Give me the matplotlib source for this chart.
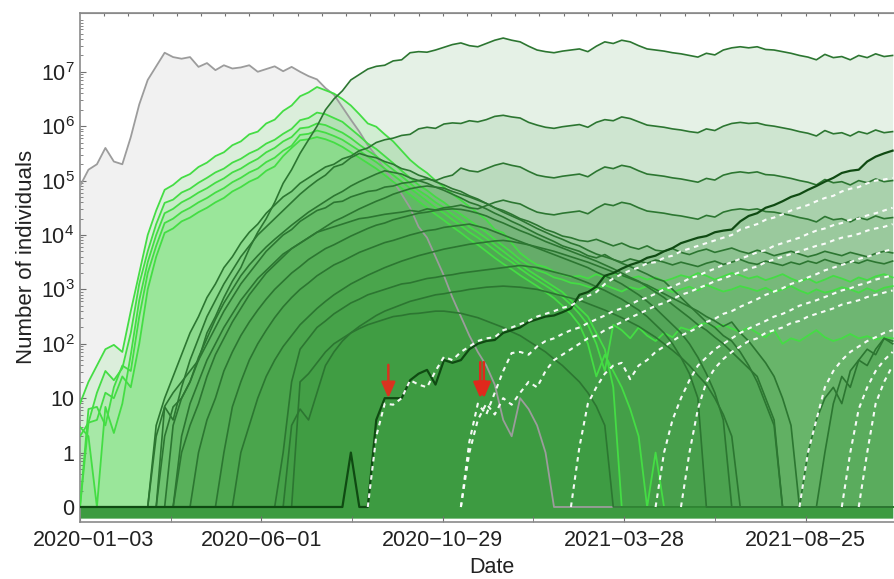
import numpy as np
import pandas as pd
import matplotlib
matplotlib.use("Agg")
import matplotlib.pyplot as plt
import matplotlib.dates as mdates
from matplotlib.ticker import FixedLocator, FixedFormatter, NullFormatter
from matplotlib.transforms import ScaledTranslation

plt.rcParams["font.family"] = ["Liberation Sans", "DejaVu Sans"]
plt.rcParams["mathtext.fontset"] = "custom"
plt.rcParams["mathtext.rm"] = "Liberation Sans"
plt.rcParams["mathtext.it"] = "Liberation Sans:italic"

# ---------------------------------------------------------------------------
# Weekly counts, stored as log10(count); None marks a week with zero count.
# ---------------------------------------------------------------------------
N_WEEKS = 97
weeks = pd.date_range("2020-01-03", periods=N_WEEKS, freq="7D")

gray_log = [4.9, 5.2, 5.3, 5.6, 5.35, 5.3, 5.8, 6.4, 6.85, 7.1, 7.35, 7.27, 7.24, 7.27, 7.09, 7.16,
            7.03, 7.12, 7.06, 7.08, 7.12, 7.0, 7.05, 7.1, 7.01, 7.09, 7.0, 6.92, 6.86, 6.7, 6.58,
            6.35, 6.12, 5.9, 5.65, 5.45, 5.2, 5.0, 4.75, 4.5, 4.15, 3.95, 3.6, 3.25, 2.85, 2.5,
            2.15, 1.85, 1.6, 1.25, 0.6, 0.3, 1.0, 0.8, 0.5, 0.0]

bright1_log = [0.9, 1.3, 1.6, 1.9, 1.98, 1.85, 2.6, 3.3, 4.0, 4.45, 4.83, 4.92, 5.05, 5.12, 5.25,
               5.33, 5.45, 5.52, 5.65, 5.72, 5.85, 5.9, 6.05, 6.12, 6.28, 6.38, 6.55, 6.62, 6.72,
               6.66, 6.6, 6.5, 6.38, 6.22, 6.05, 5.99, 5.85, 5.72, 5.55, 5.38, 5.25, 5.14, 5.0,
               4.88, 4.75, 4.64, 4.52, 4.4, 4.28, 4.1, 4.04, 3.85, 3.67, 3.55, 3.45, 3.41, 3.33,
               3.27, 3.23, 3.25, 3.2, 3.28, 3.22, 3.3, 3.26, 3.2, 3.24, 3.18, 3.22, 3.15, 3.2,
               3.26, 3.22, 3.3, 3.25, 3.18, 3.24, 3.3, 3.26, 3.2, 3.24, 3.17, 3.22, 3.28, 3.2,
               3.14, 3.2, 3.12, 3.18, 3.25, 3.2, 3.14, 3.22, 3.17, 3.24, 3.28, 3.22]

bright2_log = [0.3, 0.55, 1.1, 1.5, 1.33, 1.55, 2.2, 3.1, 3.7, 4.2, 4.59, 4.65, 4.78, 4.85, 4.96,
               5.05, 5.15, 5.22, 5.33, 5.4, 5.5, 5.57, 5.68, 5.75, 5.86, 5.95, 6.11, 6.15, 6.25,
               6.22, 6.15, 6.08, 5.95, 5.82, 5.68, 5.58, 5.45, 5.32, 5.18, 5.05, 4.92, 4.82, 4.7,
               4.6, 4.48, 4.38, 4.27, 4.16, 4.05, 3.92, 3.8, 3.68, 3.55, 3.45, 3.35, 3.3, 3.22,
               3.18, 3.12, 3.1, 3.05, 3.0, 3.08, 3.02, 2.96, 3.04, 3.0, 3.06, 2.98, 3.02, 2.95,
               3.0, 3.05, 2.98, 3.08, 3.02, 2.96, 3.0, 3.06, 3.02, 2.97, 3.03, 2.95, 3.0, 3.06,
               2.98, 2.92, 3.0, 2.94, 2.98, 3.04, 3.0, 2.94, 3.02, 2.96, 3.03, 3.06]

bright3_log = [0.47, 0.3, None, 0.84, 0.36, 0.9, 1.8, 2.8, 3.5, 4.0, 4.4, 4.48, 4.6, 4.68, 4.78,
               4.86, 4.96, 5.04, 5.15, 5.22, 5.32, 5.4, 5.52, 5.6, 5.72, 5.8, 5.96, 5.98, 6.05,
               6.02, 5.95, 5.88, 5.78, 5.66, 5.55, 5.45, 5.32, 5.2, 5.08, 4.95, 4.82, 4.72, 4.6,
               4.5, 4.38, 4.27, 4.15, 4.05, 3.94, 3.82, 3.7, 3.58, 3.46, 3.35, 3.25, 3.15, 3.05,
               2.95, 2.8, 2.65, 2.5, 2.2, 1.9, 1.2]

bright4_log = [None, 0.8, 0.84, 0.5, 1.2, 1.6, 1.5, 2.5, 3.3, 3.8, 4.22, 4.3, 4.42, 4.5, 4.6,
               4.68, 4.78, 4.86, 4.97, 5.05, 5.15, 5.22, 5.34, 5.42, 5.55, 5.64, 5.84, 5.86,
               5.92, 5.88, 5.82, 5.75, 5.65, 5.55, 5.44, 5.34, 5.22, 5.1, 4.98, 4.86, 4.74, 4.62,
               4.5, 4.4, 4.28, 4.17, 4.05, 3.95, 3.84, 3.72, 3.6, 3.5, 3.38, 3.27, 3.17, 3.07,
               2.97, 2.86, 2.72, 2.55, 2.35, 2.0, 1.5, 2.35, 2.25, 2.1, 2.3, 2.15, 2.05, 2.2,
               2.12, 2.3, 2.25, 2.35, 2.38, 2.3, 2.35, 2.28, 2.22, 2.3, 2.2, 2.12, 2.25, 2.0, 2.1,
               2.05, 2.15, 2.25, 2.12, 2.05, 2.1, 2.18, 2.1, 2.14, 2.08, 2.12, 2.1]

bright5_log = [None, 0.55, 0.6, 1.1, 1.0, 1.4, 1.2, 2.0, 3.0, 3.6, 4.04, 4.12, 4.25, 4.32, 4.42,
               4.5, 4.6, 4.68, 4.8, 4.88, 4.98, 5.05, 5.18, 5.26, 5.45, 5.6, 5.74, 5.76, 5.8,
               5.76, 5.7, 5.62, 5.52, 5.42, 5.32, 5.22, 5.1, 4.98, 4.86, 4.74, 4.62, 4.5, 4.38,
               4.27, 4.15, 4.04, 3.92, 3.82, 3.7, 3.58, 3.47, 3.37, 3.26, 3.16, 3.06, 2.95, 2.84,
               2.7, 2.55, 2.35, 2.0, 1.4, 1.8, 1.5, 1.2, 0.8, 0.3, None, 0.0]

dark1_log = [None] * 10 + [
    0.85, 1.1, 1.3, 1.5, 1.7, 2.2, 2.5, 2.85, 3.15, 3.4, 3.75, 4.05, 4.3, 4.6, 4.95, 5.2, 5.5,
    5.75, 6.0, 6.3, 6.5, 6.65, 6.85, 6.95, 7.05, 7.1, 7.12, 7.2, 7.22, 7.35, 7.37, 7.36, 7.4,
    7.45, 7.5, 7.53, 7.48, 7.46, 7.52, 7.58, 7.62, 7.58, 7.55, 7.47, 7.4, 7.37, 7.35, 7.38, 7.4,
    7.42, 7.37, 7.47, 7.55, 7.52, 7.58, 7.55, 7.48, 7.42, 7.4, 7.38, 7.35, 7.33, 7.3, 7.27, 7.34,
    7.31, 7.4, 7.44, 7.46, 7.44, 7.46, 7.41, 7.4, 7.37, 7.34, 7.3, 7.27, 7.22, 7.32, 7.26, 7.28,
    7.22, 7.3, 7.26, 7.33, 7.28, 7.3]

dark2_log = [None] * 9 + [
    0.5, 1.0, 1.4, 1.8, 2.2, 2.5, 2.85, 3.1, 3.4, 3.6, 3.85, 4.05, 4.2, 4.4, 4.55, 4.7, 4.8,
    4.95, 5.05, 5.15, 5.25, 5.3, 5.4, 5.45, 5.55, 5.6, 5.7, 5.75, 5.78, 5.83, 5.85, 5.95, 5.98,
    5.96, 6.04, 6.06, 6.05, 6.1, 6.08, 6.12, 6.18, 6.2, 6.17, 6.15, 6.07, 6.02, 5.98, 5.96, 5.99,
    6.01, 6.03, 5.98, 6.07, 6.12, 6.1, 6.17, 6.14, 6.08, 6.02, 6.0, 5.98, 5.95, 5.93, 5.9, 5.88,
    5.95, 5.92, 6.0, 6.05, 6.07, 6.05, 6.06, 6.02, 6.0, 5.97, 5.94, 5.9, 5.87, 5.82, 5.92, 5.86,
    5.88, 5.82, 5.9, 5.86, 5.93, 5.88, 5.9]

dark3_log = [None] * 11 + [
    0.5, 1.0, 1.3, 1.7, 2.0, 2.3, 2.6, 2.85, 3.1, 3.3, 3.5, 3.7, 3.85, 4.0, 4.1, 4.25, 4.35,
    4.45, 4.5, 4.6, 4.62, 4.7, 4.75, 4.8, 4.82, 4.88, 4.9, 4.95, 4.97, 5.0, 5.03, 5.0, 5.06, 5.1,
    5.23, 5.18, 5.16, 5.22, 5.28, 5.32, 5.28, 5.25, 5.17, 5.1, 5.07, 5.05, 5.08, 5.1, 5.12, 5.07,
    5.17, 5.25, 5.22, 5.28, 5.25, 5.18, 5.12, 5.1, 5.08, 5.05, 5.03, 5.0, 4.97, 5.04, 5.01, 5.1,
    5.14, 5.16, 5.14, 5.16, 5.11, 5.1, 5.07, 5.04, 5.0, 4.97, 4.92, 5.02, 4.96, 4.98, 4.92, 5.0,
    4.96, 5.03, 4.98, 5.0]

dark4_log = [None] * 12 + [
    0.3, 0.9, 1.3, 1.7, 2.0, 2.3, 2.55, 2.8, 3.0, 3.2, 3.35, 3.5, 3.65, 3.75, 3.85, 3.95, 4.05,
    4.1, 4.15, 4.2, 4.25, 4.3, 4.32, 4.35, 4.38, 4.4, 4.42, 4.45, 4.43, 4.48, 4.46, 4.5, 4.52,
    4.55, 4.5, 4.48, 4.54, 4.6, 4.64, 4.6, 4.57, 4.49, 4.42, 4.39, 4.37, 4.4, 4.42, 4.44, 4.39,
    4.49, 4.57, 4.54, 4.6, 4.57, 4.5, 4.44, 4.42, 4.4, 4.37, 4.35, 4.32, 4.29, 4.36, 4.33, 4.42,
    4.46, 4.48, 4.46, 4.48, 4.43, 4.42, 4.39, 4.36, 4.32, 4.29, 4.24, 4.34, 4.28, 4.3, 4.24, 4.32,
    4.28, 4.35, 4.3, 4.32]

hump1_log = [None] * 9 + [
    0.3, 0.84, 0.6, 1.2, 1.7, 2.1, 2.5, 2.8, 3.1, 3.35, 3.6, 3.8, 4.0, 4.15, 4.3, 4.45, 4.6,
    4.75, 4.88, 5.0, 5.1, 5.25, 5.3, 5.42, 5.5, 5.45, 5.42, 5.35, 5.3, 5.22, 5.18, 5.1, 5.05,
    4.98, 4.92, 4.85, 4.8, 4.72, 4.66, 4.58, 4.5, 4.45, 4.38, 4.3, 4.25, 4.18, 4.1, 4.05, 3.98,
    3.95, 3.9, 3.88, 3.92, 3.86, 3.8, 3.85, 3.78, 3.74, 3.8, 3.72, 3.7, 3.75, 3.68, 3.64, 3.7,
    3.74, 3.68, 3.72, 3.76, 3.7, 3.66, 3.72, 3.68, 3.62, 3.66, 3.7, 3.65, 3.6, 3.64, 3.7, 3.66,
    3.62, 3.68, 3.64, 3.6, 3.66, 3.7, 3.67]

hump2_log = [None] * 10 + [
    0.3, 0.84, 1.0, 1.3, 1.75, 2.1, 2.45, 2.75, 3.0, 3.25, 3.45, 3.62, 3.78, 3.92, 4.05, 4.18,
    4.3, 4.42, 4.52, 4.62, 4.72, 4.8, 4.9, 4.98, 5.05, 5.12, 5.18, 5.15, 5.12, 5.05, 5.0, 4.95,
    4.88, 4.82, 4.75, 4.68, 4.6, 4.55, 4.48, 4.4, 4.33, 4.25, 4.18, 4.1, 4.02, 3.95, 3.88, 3.8,
    3.75, 3.7, 3.62, 3.58, 3.64, 3.55, 3.5, 3.56, 3.52, 3.48, 3.54, 3.5, 3.45, 3.5, 3.46, 3.42,
    3.48, 3.52, 3.46, 3.5, 3.55, 3.49, 3.46, 3.52, 3.48, 3.44, 3.5, 3.46, 3.52, 3.48, 3.55, 3.5,
    3.46, 3.52, 3.48, 3.54, 3.5, 3.47, 3.52]

hump3_log = [None] * 12 + [
    0.0, 0.5, 0.9, 1.4, 1.8, 2.1, 2.4, 2.65, 2.9, 3.1, 3.3, 3.45, 3.6, 3.75, 3.85, 3.95, 4.05,
    4.15, 4.25, 4.32, 4.4, 4.48, 4.55, 4.62, 4.68, 4.75, 4.8, 4.85, 4.88, 4.9, 4.88, 4.86, 4.8,
    4.75, 4.7, 4.64, 4.58, 4.5, 4.42, 4.35, 4.28, 4.2, 4.12, 4.05, 3.98, 3.92, 3.85, 3.8, 3.72,
    3.65, 3.6, 3.55, 3.48, 3.42, 3.35, 3.28, 3.2, 3.15, 3.0, 2.85, 2.7, 2.55, 2.4, 2.3, 2.15,
    2.05, 1.85, 1.6, 1.3, 0.9, 0.5]

hump4_log = [None] * 14 + [
    0.0, 0.6, 1.0, 1.5, 1.85, 2.15, 2.4, 2.62, 2.82, 3.0, 3.15, 3.3, 3.42, 3.55, 3.65, 3.75,
    3.82, 3.9, 3.98, 4.05, 4.12, 4.18, 4.22, 4.28, 4.32, 4.36, 4.4, 4.42, 4.45, 4.47, 4.48, 4.47,
    4.44, 4.4, 4.35, 4.28, 4.22, 4.15, 4.08, 4.02, 3.95, 3.88, 3.82, 3.76, 3.7, 3.64, 3.58, 3.52,
    3.45, 3.38, 3.3, 3.22, 3.15, 3.05, 2.95, 2.85, 2.72, 2.6, 2.48, 2.35, 2.25, 2.12, 2.0, 1.85,
    1.7, 1.55, 1.4, 1.0, 0.6, None, None, None, 0.0, 0.6, 1.0, 1.2, 0.9, 1.5, 1.7, 1.6, 1.9,
    2.1, 2.0]

hump5_log = [None] * 17 + [
    0.0, 0.84, 1.3, 1.7, 2.0, 2.25, 2.48, 2.68, 2.85, 3.0, 3.12, 3.25, 3.35, 3.45, 3.52, 3.6,
    3.68, 3.74, 3.8, 3.86, 3.9, 3.95, 4.0, 4.04, 4.08, 4.1, 4.14, 4.16, 4.18, 4.2, 4.16, 4.12,
    4.06, 4.0, 3.94, 3.88, 3.82, 3.76, 3.7, 3.64, 3.58, 3.52, 3.46, 3.4, 3.32, 3.25, 3.18, 3.1,
    3.0, 2.9, 2.78, 2.65, 2.5, 2.35, 2.2, 2.0, 1.75, 1.45, 1.1, 0.6]

hump6_log = [None] * 19 + [
    0.0, 0.5, 1.0, 1.4, 1.7, 1.95, 2.15, 2.35, 2.5, 2.65, 2.78, 2.9, 3.0, 3.1, 3.18, 3.26, 3.33,
    3.4, 3.46, 3.52, 3.57, 3.62, 3.66, 3.7, 3.74, 3.77, 3.8, 3.83, 3.85, 3.87, 3.89, 3.9, 3.88,
    3.85, 3.82, 3.78, 3.74, 3.7, 3.65, 3.6, 3.55, 3.5, 3.44, 3.38, 3.32, 3.26, 3.2, 3.14, 3.08,
    3.0, 2.92, 2.84, 2.76, 2.68, 2.6, 2.5, 2.42, 2.32, 2.4, 2.2, 2.05, 1.85, 1.65, 1.4, 1.0, 0.5]

hump7_log = [None] * 24 + [
    0.0, 1.3, 1.9, 2.1, 2.3, 2.42, 2.55, 2.65, 2.75, 2.82, 2.9, 2.95, 3.0, 3.05, 3.1, 3.12,
    3.16, 3.2, 3.22, 3.25, 3.27, 3.3, 3.32, 3.34, 3.36, 3.38, 3.4, 3.42, 3.44, 3.42, 3.4, 3.36,
    3.32, 3.28, 3.24, 3.18, 3.12, 3.05, 2.98, 2.9, 2.82, 2.72, 2.62, 2.5, 2.35, 2.2, 2.0, 1.75,
    1.45, 1.0]

hump8_log = [None] * 25 + [
    0.5, 0.8, 0.6, 1.1, 1.6, 1.85, 2.05, 2.2, 2.32, 2.42, 2.52, 2.6, 2.66, 2.72, 2.78, 2.82,
    2.86, 2.9, 2.92, 2.95, 2.97, 3.0, 3.02, 3.04, 3.05, 3.06, 3.05, 3.04, 3.02, 3.0, 2.96, 2.92,
    2.88, 2.84, 2.8, 2.74, 2.68, 2.62, 2.55, 2.48, 2.4, 2.32, 2.22, 2.12, 2.0, 1.88, 1.75, 1.6,
    1.42, 1.25, 1.0, 0.7, 0.3, None, None, None, None, None, None, None, None, None, None, 0.0,
    0.9, 1.4, 1.2, 1.7, 1.9, 1.8, 2.1, 2.05]

hump9_log = [None] * 26 + [
    1.3, 1.45, 1.65, 1.85, 2.0, 2.1, 2.2, 2.28, 2.35, 2.4, 2.45, 2.5, 2.52, 2.55, 2.56, 2.58,
    2.6, 2.6, 2.58, 2.56, 2.52, 2.48, 2.42, 2.36, 2.3, 2.22, 2.15, 2.05, 1.95, 1.85, 1.72, 1.6,
    1.45, 1.3, 1.1, 0.85, 0.5]

tracked_log = [None] * 32 + [
    0.0, None, None, 0.6, 1.0, 1.0, 1.0, 1.33, 1.45, 1.52, 1.25, 1.7, 1.65, 1.7, 1.9, 2.0, 2.05,
    2.07, 2.2, 2.25, 2.3, 2.4, 2.45, 2.5, 2.52, 2.58, 2.65, 2.9, 2.95, 3.05, 3.25, 3.3, 3.38,
    3.45, 3.5, 3.58, 3.62, 3.7, 3.76, 3.85, 3.9, 3.95, 3.98, 4.05, 4.08, 4.1, 4.25, 4.35, 4.4,
    4.5, 4.55, 4.62, 4.7, 4.75, 4.83, 4.9, 4.98, 5.05, 5.14, 5.18, 5.2, 5.35, 5.44, 5.5, 5.55]

dashed1_log = [None] * 35 + [
    0.3, 0.9, 0.88, 1.0, 1.33, 1.25, 1.2, 1.5, 1.76, 1.7, 1.85, 1.95, 2.05, 2.1, 2.12, 2.25,
    2.3, 2.36, 2.42, 2.5, 2.55, 2.6, 2.66, 2.7, 2.8, 2.88, 2.95, 3.1, 3.2, 3.28, 3.35, 3.4, 3.48,
    3.5, 3.58, 3.62, 3.7, 3.75, 3.8, 3.85, 3.9, 3.95, 4.0, 4.1, 4.15, 4.2, 4.28, 4.32, 4.38,
    4.45, 4.5, 4.55, 4.62, 4.68, 4.72, 4.8, 4.85, 4.88, 4.95, 5.0, 5.02, 5.05]

dashed2_log = [None] * 46 + [
    0.2, 0.9, 0.7, 1.1, 1.5, 1.83, 1.85, 1.8, 1.95, 2.05, 2.1, 2.18, 2.25, 2.3, 2.38, 2.45,
    2.52, 2.6, 2.65, 2.72, 2.8, 2.85, 2.92, 3.0, 3.05, 3.12, 3.2, 3.25, 3.32, 3.38, 3.45, 3.5,
    3.56, 3.62, 3.68, 3.72, 3.8, 3.85, 3.9, 3.95, 4.02, 4.08, 4.12, 4.18, 4.22, 4.28, 4.3, 4.36,
    4.4, 4.45, 4.5]

dashed3_log = [None] * 46 + [
    0.0, 0.6, 0.9, 0.7, 1.0, 0.88, 1.1, 1.3, 1.2, 1.5, 1.7, 1.8, 1.9, 2.0, 2.1, 2.15, 2.25,
    2.32, 2.4, 2.48, 2.55, 2.62, 2.7, 2.75, 2.82, 2.9, 2.95, 3.02, 3.08, 3.15, 3.2, 3.26, 3.32,
    3.38, 3.42, 3.5, 3.55, 3.6, 3.65, 3.7, 3.75, 3.8, 3.84, 3.9, 3.95, 3.98, 4.02, 4.08, 4.12,
    4.15, 4.2]

dashed4_log = [None] * 59 + [
    0.1, 0.9, 1.2, 1.45, 1.6, 1.65, 1.35, 1.6, 1.7, 1.85, 1.95, 2.05, 2.15, 2.22, 2.3, 2.4,
    2.46, 2.55, 2.6, 2.68, 2.75, 2.82, 2.9, 2.96, 3.02, 3.1, 3.15, 3.22, 3.28, 3.35, 3.4, 3.45,
    3.5, 3.56, 3.6, 3.65, 3.7, 3.74]

dashed5_log = [None] * 69 + [
    0.0, 0.6, 1.0, 1.33, 1.6, 1.75, 1.9, 2.0, 2.1, 2.2, 2.28, 2.35, 2.42, 2.5, 2.55, 2.62, 2.7,
    2.75, 2.8, 2.86, 2.92, 2.98, 3.02, 3.08, 3.12, 3.18, 3.22, 3.26]

dashed6_log = [None] * 72 + [
    0.0, 0.8, 1.3, 1.55, 1.72, 1.85, 1.95, 2.05, 2.1, 2.2, 2.25, 2.3, 2.38, 2.42, 2.5, 2.55,
    2.6, 2.65, 2.72, 2.76, 2.8, 2.86, 2.9, 2.94, 2.98]

dashed7_log = [None] * 86 + [0.0, 0.6, 1.2, 1.5, 1.7, 1.85, 1.95, 2.05, 2.12, 2.2, 2.25]
dashed8_log = [None] * 91 + [0.0, 0.8, 1.2, 1.5, 1.7, 1.85]
dashed9_log = [None] * 93 + [0.0, 0.9, 1.3, 1.6]

# Dates flagged with arrows and the count they point at
arrow_single_date = "2020-09-14"
arrow_double_dates = ["2020-11-29", "2020-12-02"]
arrow_count = 10

# Axis ticks
y_tick_values = [0, 1, 10, 1e2, 1e3, 1e4, 1e5, 1e6, 1e7]
y_tick_labels = ["0", "1", "10", r"$10^{2}$", r"$10^{3}$", r"$10^{4}$",
                 r"$10^{5}$", r"$10^{6}$", r"$10^{7}$"]
x_label_dates = ["2020-01-03", "2020-06-01", "2020-10-29", "2021-03-28", "2021-08-25"]
x_mid_dates = ["2020-03-18", "2020-08-15", "2021-01-12", "2021-06-11"]


def to_counts(log_vals):
    out = np.zeros(N_WEEKS)
    for i, v in enumerate(log_vals[:N_WEEKS]):
        if v is not None:
            out[i] = 10.0 ** v
    return out


# Log axis with zero drawn one decade below 1
def _fwd(v):
    v = np.asarray(v, dtype=float)
    out = np.full(v.shape, -1.0)
    pos = v > 0
    out[pos] = np.log10(v[pos])
    return out


def _inv(t):
    return np.power(10.0, np.asarray(t, dtype=float))


fig = plt.figure(figsize=(8.95, 5.79), dpi=100)
ax = fig.add_axes([80 / 895, 57 / 579, 815 / 895, 509.3 / 579])
ax.set_yscale("function", functions=(_fwd, _inv))

base = 10 ** -1.2

groups = [
    ([gray_log], "#9c9c9c", "#a9a9a9", 0.16, 1.3),
    ([bright1_log, bright2_log, bright3_log, bright4_log, bright5_log],
     "#44dd44", "#48e048", 0.13, 1.3),
    ([dark1_log, dark2_log, dark3_log, dark4_log, hump1_log, hump2_log, hump3_log,
      hump4_log, hump5_log, hump6_log, hump7_log, hump8_log, hump9_log],
     "#2c7631", "#2f9034", 0.12, 1.2),
    ([tracked_log], "#0f4a12", "#2f9034", 0.12, 1.6),
]

for series, lc, fc, alpha, lw in groups:
    for s in series:
        ax.fill_between(weeks, to_counts(s), base, color=fc, alpha=alpha, lw=0, zorder=1)

for series, lc, fc, alpha, lw in groups:
    for s in series:
        ax.plot(weeks, to_counts(s), color=lc, lw=lw, zorder=3)

# White dashed series, drawn from the last zero week before they appear
for s in [dashed1_log, dashed2_log, dashed3_log, dashed4_log, dashed5_log,
          dashed6_log, dashed7_log, dashed8_log, dashed9_log]:
    first = next(i for i, v in enumerate(s) if v is not None)
    lo = max(first - 1, 0)
    ax.plot(weeks[lo:], to_counts(s)[lo:], color="white", lw=1.5, dashes=(2.2, 2.2),
            zorder=4, alpha=0.95)

# Red arrows
ax.annotate("", xy=(pd.Timestamp(arrow_single_date), arrow_count), xytext=(0, 24),
            textcoords="offset points",
            arrowprops=dict(arrowstyle="-|>,head_length=0.8,head_width=0.35",
                            color="#d9331f", lw=1.8, shrinkA=0, shrinkB=0,
                            mutation_scale=12), zorder=6)
for d in arrow_double_dates:
    ax.annotate("", xy=(pd.Timestamp(d), arrow_count), xytext=(0, 26),
                textcoords="offset points",
                arrowprops=dict(arrowstyle="-|>,head_length=0.8,head_width=0.35",
                                color="#e0291c", lw=1.8, shrinkA=0, shrinkB=0,
                                mutation_scale=12), zorder=6)

# Limits
x0 = pd.Timestamp("2020-01-03")
ax.set_xlim(x0, x0 + pd.Timedelta(days=674))
ax.set_ylim(10 ** -1.276, 10 ** 8.086)

# Y ticks
ax.yaxis.set_major_locator(FixedLocator(y_tick_values))
ax.yaxis.set_major_formatter(FixedFormatter(y_tick_labels))
minor_y = [m * 10 ** k for k in range(-1, 8) for m in range(2, 10)]
ax.yaxis.set_minor_locator(FixedLocator(minor_y))
ax.yaxis.set_minor_formatter(NullFormatter())

# X ticks
ax.xaxis.set_major_locator(FixedLocator(mdates.date2num(pd.to_datetime(x_label_dates))))
ax.xaxis.set_major_formatter(FixedFormatter([d.replace("-", "\u2212") for d in x_label_dates]))
ax.xaxis.set_minor_locator(FixedLocator(mdates.date2num(pd.to_datetime(x_mid_dates))))

ax.tick_params(axis="both", which="both", direction="in", color="#707070",
               labelcolor="#222222", labelsize=15.5)
ax.tick_params(axis="x", which="major", length=4, pad=6)
ax.tick_params(axis="x", which="minor", length=4)
ax.tick_params(axis="y", which="major", length=4, pad=4)
ax.tick_params(axis="y", which="minor", length=2)

# top scale: ticks every 20 days
top = ax.secondary_xaxis("top")
top_ticks = [x0 + pd.Timedelta(days=20 * k) for k in range(1, 34)]
top.set_xticks(mdates.date2num(top_ticks))
top.xaxis.set_major_formatter(NullFormatter())
top.tick_params(direction="in", length=2, color="#707070")
top.spines["top"].set_color("#8a8a8a")

for side in ["left", "bottom", "top"]:
    ax.spines[side].set_color("#8a8a8a")
    ax.spines[side].set_linewidth(1.2)
ax.spines["right"].set_visible(False)

# Shift first date label so it sits inside the frame
first_lbl = ax.get_xticklabels()[0]
first_lbl.set_transform(first_lbl.get_transform()
                        + ScaledTranslation(14 / 100, 0, fig.dpi_scale_trans))

ax.set_xlabel("Date", fontsize=15.5, color="#222222")
ax.xaxis.set_label_coords((492 - 80) / 815, -0.068)
ax.set_ylabel("Number of individuals", fontsize=16, color="#222222")
ax.yaxis.set_label_coords(-0.053, 0.52)

fig.savefig("out.png", dpi=100)
